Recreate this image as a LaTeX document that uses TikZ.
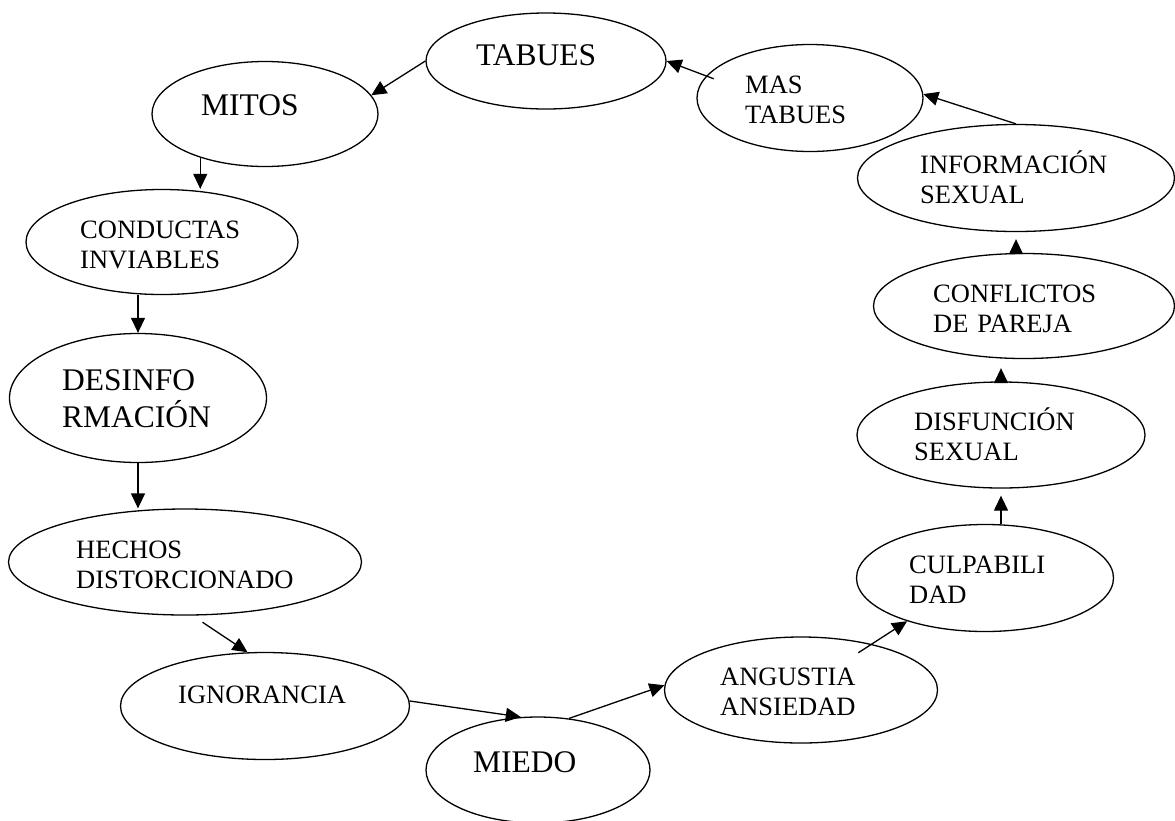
\documentclass[tikz,border=0pt]{standalone}
\usepackage{fontspec}
\setmainfont{Liberation Serif}
\usetikzlibrary{shapes.geometric,arrows.meta}
\tikzset{
    blob/.style={draw, ellipse, line width=1.3pt, inner sep=0pt},
    big/.style={font=\fontsize{31.5}{37}\selectfont, anchor=base west, inner sep=0pt, align=left},
    small/.style={font=\fontsize{26.5}{30}\selectfont, anchor=base west, inner sep=0pt, align=left},
    arr/.style={-{Triangle[length=15pt,width=14pt]}, line width=1.3pt}
}
\begin{document}
\begin{tikzpicture}[x=1pt, y=-1pt]
                \useasboundingbox (0,0) rectangle (1175,820);

                \node[blob, minimum width=240, minimum height=96] (tabues) at (546,61) {};
                \node[blob, minimum width=226, minimum height=105] (mitos) at (265,114) {};
                \node[blob, minimum width=272, minimum height=105] (conduct) at (162,242) {};
                \node[blob, minimum width=257, minimum height=129] (desinfo) at (138,398) {};
                \node[blob, minimum width=353, minimum height=106] (hechos) at (185,562) {};
                \node[blob, minimum width=289, minimum height=107] (ignor) at (265,706) {};
                \node[blob, minimum width=224, minimum height=106] (miedo) at (538,770) {};
                \node[blob, minimum width=273, minimum height=106] (angus) at (801,690) {};
                \node[blob, minimum width=257, minimum height=107] (culpa) at (985,578) {};
                \node[blob, minimum width=288, minimum height=106] (disf) at (1001,435) {};
                \node[blob, minimum width=301, minimum height=105] (confl) at (1024,306) {};
                \node[blob, minimum width=317, minimum height=107] (info) at (1016,178) {};
                \node[blob, minimum width=226, minimum height=107] (mas) at (810,98) {};

                \node[big, text width=125] (tabues-t) at (476,65) {TABUES};
                \node[big, text width=100] (mitos-t) at (201,115) {MITOS};
                \node[small, text width=165] (conduct-t) at (80,238) {CONDUCTAS\\INVIABLES};
                \node[big, text width=150] (desinfo-t) at (62,390) {DESINFO\\RMACIÓN};
                \node[small, text width=236] (hechos-t) at (76,558) {HECHOS\\DISTORCIONADO};
                \node[small, text width=170] (ignor-t) at (178,703) {IGNORANCIA};
                \node[big, text width=105] (miedo-t) at (473,772) {MIEDO};
                \node[small, text width=138] (angus-t) at (720,685) {ANGUSTIA\\ANSIEDAD};
                \node[small, text width=140] (culpa-t) at (909,573) {CULPABILI\\DAD};
                \node[small, text width=162] (disf-t) at (914,430) {DISFUNCIÓN\\SEXUAL};
                \node[small, text width=165] (confl-t) at (933,302) {CONFLICTOS\\DE PAREJA};
                \node[small, text width=190] (info-t) at (920,173) {INFORMACIÓN\\SEXUAL};
                \node[small, text width=105] (mas-t) at (745,93) {MAS\\TABUES};

                \draw[arr] (tabues.180) -- (mitos.10);
                \draw[arr] (mitos.214) -- (mitos.214 |- conduct.north);
                \draw[arr] (desinfo.north |- conduct.south) -- (desinfo.north);
                \draw[arr] (desinfo.south) -- (desinfo.south |- hechos.north);
                \draw[arr, shorten <=12pt] (hechos.-82) -- (ignor.108);
                \draw[arr] (ignor.2) -- (miedo.108);
                \draw[arr] (miedo.59) -- (angus.178);
                \draw[arr, shorten <=-16pt] (angus.33) -- (culpa.209);
                \draw[arr, shorten >=7pt] (disf.south |- culpa.north) -- (disf.south);
                \draw[arr, shorten >=9pt] (disf.north) -- (disf.north |- confl.south);
                \draw[arr, shorten >=7pt] (info.south |- confl.north) -- (info.south);
                \draw[arr] (info.north) -- (mas.2);
                \draw[arr, shorten <=-8pt] (mas.168) -- (tabues.east);
\end{tikzpicture}
\end{document}
